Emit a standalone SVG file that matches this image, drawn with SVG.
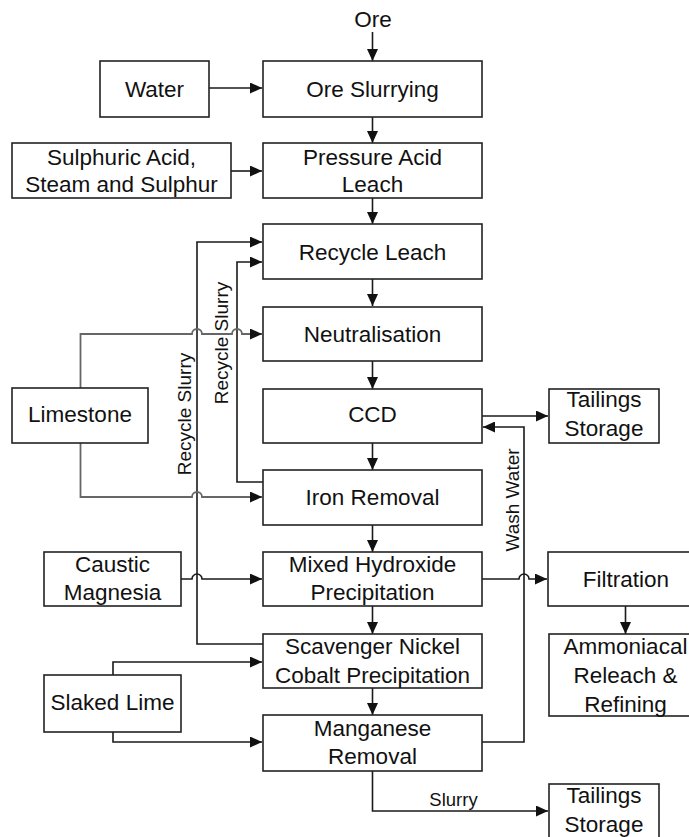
<svg xmlns="http://www.w3.org/2000/svg" width="689" height="837" viewBox="0 0 689 837">
  <style>
    .box { fill: #fff; stroke: #222; stroke-width: 1.6; }
    .t { font-family: "Liberation Sans", Arial, sans-serif; font-size: 22.5px; fill: #111; text-anchor: middle; }
    .small { font-family: "Liberation Sans", Arial, sans-serif; font-size: 18.5px; fill: #111; text-anchor: middle; }
    .rot { font-family: "Liberation Sans", Arial, sans-serif; font-size: 19px; fill: #111; text-anchor: middle; }
    .ln { fill: none; stroke: #1a1a1a; stroke-width: 1.6; }
    .gray { fill: none; stroke: #666; stroke-width: 1.8; }
  </style>
  <defs>
    <marker id="arrow" markerUnits="userSpaceOnUse" markerWidth="12" markerHeight="11" refX="12" refY="5.5" orient="auto">
      <path d="M0,0 L12,5.5 L0,11 z" fill="#111"/>
    </marker>
  </defs>
  <rect width="689" height="837" fill="#fff"/>

  <!-- connectors -->
  <g id="connectors">
    <path class="ln" d="M372.5,32 V61" marker-end="url(#arrow)"/>
    <path class="ln" d="M209,88 H262" marker-end="url(#arrow)"/>
    <path class="ln" d="M372.5,117 V143" marker-end="url(#arrow)"/>
    <path class="ln" d="M231,171 H262" marker-end="url(#arrow)"/>
    <path class="ln" d="M372.5,198 V224" marker-end="url(#arrow)"/>
    <path class="ln" d="M372.5,279 V306" marker-end="url(#arrow)"/>
    <path class="ln" d="M372.5,361 V389" marker-end="url(#arrow)"/>
    <path class="ln" d="M372.5,443 V470" marker-end="url(#arrow)"/>
    <path class="ln" d="M372.5,525 V552" marker-end="url(#arrow)"/>
    <path class="ln" d="M372.5,606 V634" marker-end="url(#arrow)"/>
    <path class="ln" d="M372.5,688 V715" marker-end="url(#arrow)"/>
    <path class="ln" d="M372.5,771 V811 H548" marker-end="url(#arrow)"/>
    <path class="ln" d="M482,416 H548" marker-end="url(#arrow)"/>
    <path class="ln" d="M482,742 H524 V427 H483" marker-end="url(#arrow)"/>
    <path class="ln" d="M482,579 H519 a5,5 0 0 1 10,0 H547" marker-end="url(#arrow)"/>
    <path class="ln" d="M625.5,606 V634" marker-end="url(#arrow)"/>
    <!-- recycle slurry returns -->
    <path class="ln" d="M263,644 H197 V242 H262" marker-end="url(#arrow)"/>
    <path class="ln" d="M263,482 H237 V262 H262" marker-end="url(#arrow)"/>
    <!-- limestone feeds -->
    <path class="gray" d="M80.5,388 V334 H192 a5,5 0 0 1 10,0 H232 a5,5 0 0 1 10,0 H262" marker-end="url(#arrow)"/>
    <path class="gray" d="M80.5,443 V497 H192 a5,5 0 0 1 10,0 H262" marker-end="url(#arrow)"/>
    <!-- magnesia and lime feeds -->
    <path class="ln" d="M181,579 H192 a5,5 0 0 1 10,0 H262" marker-end="url(#arrow)"/>
    <path class="ln" d="M113,675 V662 H262" marker-end="url(#arrow)"/>
    <path class="ln" d="M113,732 V742 H262" marker-end="url(#arrow)"/>
    <text class="rot" transform="translate(191,414) rotate(-90)">Recycle Slurry</text>
    <text class="rot" transform="translate(228,343) rotate(-90)">Recycle Slurry</text>
    <text class="rot" transform="translate(519,500) rotate(-90)">Wash Water</text>
    <text class="small" x="453.5" y="806">Slurry</text>
  </g>

  <g id="ore"><text class="t" x="373" y="27">Ore</text></g>

  <g id="water">
    <rect class="box" x="100" y="61" width="109" height="56"/>
    <text class="t" x="154.5" y="97">Water</text>
  </g>
  <g id="ore-slurrying">
    <rect class="box" x="263" y="61" width="219" height="56"/>
    <text class="t" x="372.5" y="97">Ore Slurrying</text>
  </g>
  <g id="acid-feed">
    <rect class="box" x="12" y="143" width="219" height="55"/>
    <text class="t" x="121.5" y="165">Sulphuric Acid,</text>
    <text class="t" x="121.5" y="191.5">Steam and Sulphur</text>
  </g>
  <g id="pressure-acid-leach">
    <rect class="box" x="263" y="143" width="219" height="55"/>
    <text class="t" x="372.5" y="165">Pressure Acid</text>
    <text class="t" x="372.5" y="191.5">Leach</text>
  </g>
  <g id="recycle-leach">
    <rect class="box" x="263" y="224" width="219" height="55"/>
    <text class="t" x="372.5" y="260">Recycle Leach</text>
  </g>
  <g id="neutralisation">
    <rect class="box" x="263" y="307" width="219" height="54"/>
    <text class="t" x="372.5" y="342">Neutralisation</text>
  </g>
  <g id="limestone">
    <rect class="box" x="12" y="388" width="136" height="55"/>
    <text class="t" x="80" y="422">Limestone</text>
  </g>
  <g id="ccd">
    <rect class="box" x="263" y="389" width="219" height="54"/>
    <text class="t" x="372.5" y="422">CCD</text>
  </g>
  <g id="tailings-storage-1">
    <rect class="box" x="549" y="389" width="110" height="54"/>
    <text class="t" x="604" y="407">Tailings</text>
    <text class="t" x="604" y="436">Storage</text>
  </g>
  <g id="iron-removal">
    <rect class="box" x="263" y="470" width="219" height="55"/>
    <text class="t" x="372.5" y="505">Iron Removal</text>
  </g>
  <g id="caustic-magnesia">
    <rect class="box" x="44" y="552" width="137" height="54"/>
    <text class="t" x="112.5" y="572">Caustic</text>
    <text class="t" x="112.5" y="600">Magnesia</text>
  </g>
  <g id="mixed-hydroxide">
    <rect class="box" x="263" y="552" width="219" height="54"/>
    <text class="t" x="372.5" y="572">Mixed Hydroxide</text>
    <text class="t" x="372.5" y="600">Precipitation</text>
  </g>
  <g id="filtration">
    <rect class="box" x="548" y="552" width="155" height="54"/>
    <text class="t" x="626" y="587">Filtration</text>
  </g>
  <g id="scavenger">
    <rect class="box" x="263" y="634" width="219" height="54"/>
    <text class="t" x="372.5" y="654">Scavenger Nickel</text>
    <text class="t" x="372.5" y="683">Cobalt Precipitation</text>
  </g>
  <g id="ammoniacal">
    <rect class="box" x="549" y="634" width="154" height="82"/>
    <text class="t" x="625.5" y="654">Ammoniacal</text>
    <text class="t" x="625.5" y="683">Releach &amp;</text>
    <text class="t" x="625.5" y="711.5">Refining</text>
  </g>
  <g id="slaked-lime">
    <rect class="box" x="44" y="675" width="137" height="57"/>
    <text class="t" x="112.5" y="710">Slaked Lime</text>
  </g>
  <g id="manganese-removal">
    <rect class="box" x="263" y="715" width="219" height="56"/>
    <text class="t" x="372.5" y="736">Manganese</text>
    <text class="t" x="372.5" y="764">Removal</text>
  </g>
  <g id="tailings-storage-2">
    <rect class="box" x="549" y="784" width="110" height="70"/>
    <text class="t" x="604" y="803">Tailings</text>
    <text class="t" x="604" y="832">Storage</text>
  </g>
</svg>
